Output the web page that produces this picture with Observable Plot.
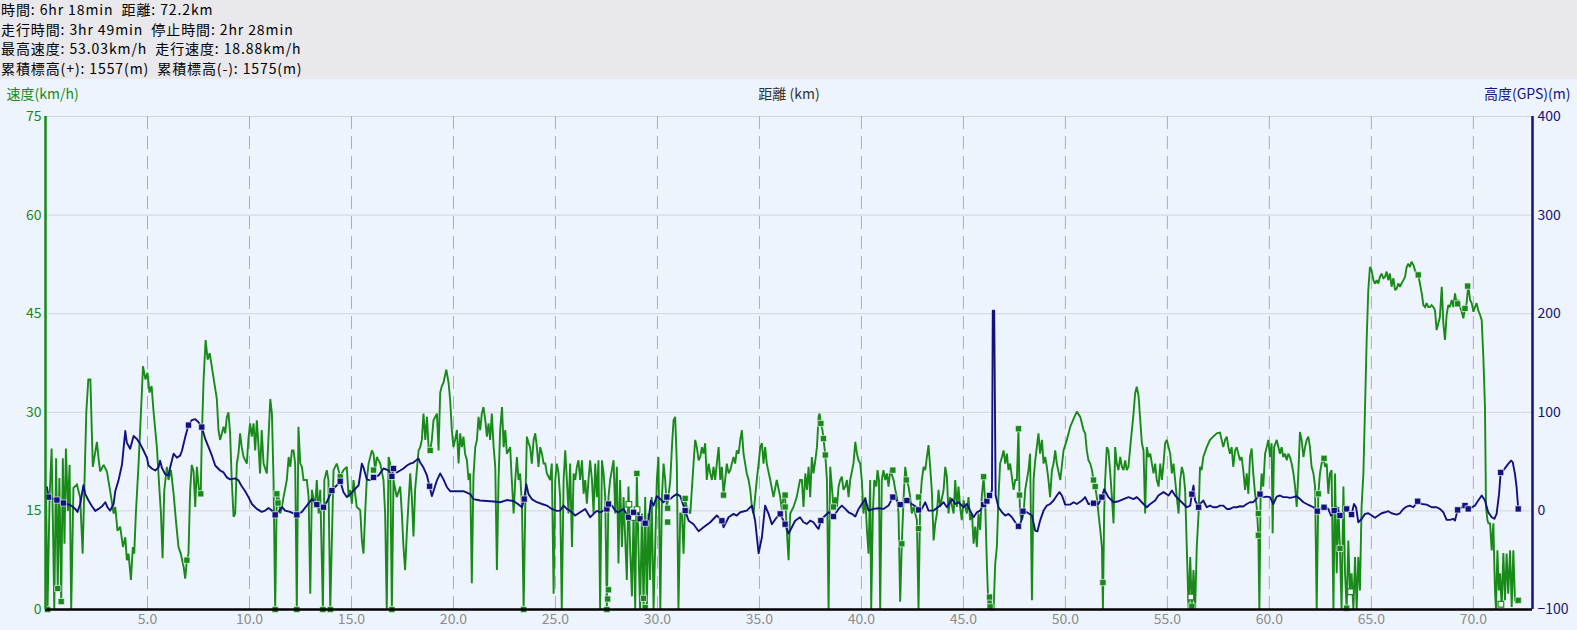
<!DOCTYPE html>
<html><head><meta charset="utf-8">
<script src="https://cdn.jsdelivr.net/npm/d3@7"></script>
<script src="https://cdn.jsdelivr.net/npm/@observablehq/plot@0.6"></script>
<style>
html,body{margin:0;padding:0;background:#eef4fd;font-family:"Noto Sans CJK JP","Noto Sans",sans-serif;}
#head{background:#e8e8ed;height:79px;padding:0 0 0 1px;font-size:14px;line-height:19.6px;letter-spacing:0.9px;color:#000;box-sizing:border-box;white-space:pre;}
#chart svg{display:block;}
</style></head><body>
<div id="head"></div>
<div id="chart"></div>
<script>
const summaryLines = [
  "時間: 6hr 18min  距離: 72.2km",
  "走行時間: 3hr 49min  停止時間: 2hr 28min",
  "最高速度: 53.03km/h  走行速度: 18.88km/h",
  "累積標高(+): 1557(m)  累積標高(-): 1575(m)"
];
const axisTitles = ["速度(km/h)", "距離 (km)", "高度(GPS)(m)"];
const xTicks = [5,10,15,20,25,30,35,40,45,50,55,60,65,70];
const xTickLabels = ["5.0","10.0","15.0","20.0","25.0","30.0","35.0","40.0","45.0","50.0","55.0","60.0","65.0","70.0"];
const speedTicks = [0,15,30,45,60,75];
const altTicks = [-100,0,100,200,300,400];
const altTickLabels = ["−100","0","100","200","300","400"];
const xMax = 72.9;

// speed (km/h) vs distance (km)
const speed = [
[0.03,17],[0.1,0],[0.2,17],[0.3,24.5],[0.38,10],[0.43,0],[0.52,23],[0.6,3.2],[0.68,20],[0.77,1.2],[0.85,23],[0.93,10],[1.0,24.5],[1.1,15],[1.18,22],[1.26,0],[1.37,18.5],[1.54,19],[1.7,17],[1.82,8.5],[1.9,18],[2.0,30],[2.1,35],[2.2,35],[2.32,21.7],[2.52,25.5],[2.6,23],[2.68,21],[2.85,22],[3.01,21],[3.17,18],[3.34,14.6],[3.42,15.6],[3.53,12],[3.66,12.6],[3.8,9.5],[3.91,11],[3.99,7.5],[4.07,8.5],[4.19,4.5],[4.28,9.5],[4.35,8.5],[4.43,14.6],[4.56,22],[4.68,30],[4.78,37],[4.9,35],[5.0,36],[5.1,33],[5.2,34],[5.3,30],[5.46,24.7],[5.59,18],[5.66,14.6],[5.74,7.8],[5.82,18],[5.95,21.7],[6.03,19.7],[6.15,21.2],[6.28,17.6],[6.41,13],[6.52,9.5],[6.63,8.5],[6.77,6.5],[6.85,4.7],[6.93,7.5],[7.01,8.5],[7.09,18],[7.17,22],[7.26,21],[7.34,15.6],[7.42,21.7],[7.53,18],[7.61,17.6],[7.66,25.8],[7.75,35],[7.85,41],[7.95,38],[8.05,39],[8.2,36],[8.4,32],[8.48,27.3],[8.56,25.8],[8.65,26.8],[8.73,27.8],[8.81,26.8],[8.89,29.3],[8.97,30],[9.05,26.8],[9.13,19.7],[9.22,14.1],[9.3,14.6],[9.38,22.2],[9.46,23.7],[9.54,26.8],[9.62,24.7],[9.71,23.2],[9.87,22.2],[9.95,26],[10.03,28.3],[10.11,26.3],[10.2,28.3],[10.28,24.2],[10.36,28.8],[10.44,25],[10.52,20.7],[10.6,27.3],[10.69,22.2],[10.85,20.7],[11.02,32],[11.1,29.8],[11.18,19.7],[11.26,0],[11.34,17.6],[11.43,17.1],[11.51,14.6],[11.59,15.6],[11.67,17.1],[11.83,19.7],[11.92,23.2],[12.0,21.7],[12.08,24.2],[12.16,24.2],[12.24,22.2],[12.32,0],[12.4,27.8],[12.49,22.2],[12.57,21.7],[12.65,19.7],[12.81,19.7],[12.9,17.1],[12.98,2.4],[13.06,18.2],[13.22,15.6],[13.3,19.7],[13.39,14.6],[13.47,18.2],[13.6,0],[13.67,19.7],[13.79,21.2],[13.87,19.7],[13.96,0],[14.12,21.2],[14.28,22.2],[14.45,20.2],[14.61,21.2],[14.77,21.7],[14.86,17.1],[14.94,18.2],[15.02,16.1],[15.1,19.7],[15.18,17.6],[15.26,15.6],[15.43,15.1],[15.51,10.5],[15.59,8.5],[15.67,14.6],[15.75,19.7],[15.84,22.2],[16.0,24.2],[16.08,23.7],[16.16,21.2],[16.24,23.2],[16.41,22.2],[16.57,19.7],[16.65,14.6],[16.73,0],[16.82,23.2],[16.9,22.2],[16.98,0],[17.06,19.7],[17.22,17.1],[17.39,18.7],
[17.47,14.6],[17.55,9.5],[17.63,6],[17.72,12.1],[17.88,20.7],[17.96,17.1],[18.04,11.1],[18.12,18.2],[18.29,24.2],[18.37,24.7],[18.45,25.8],[18.53,29.8],[18.62,25.8],[18.7,29.3],[18.78,24.7],[18.86,24.2],[18.94,25.8],[19.02,28.8],[19.19,29.8],[19.27,24.2],[19.35,33],[19.43,34],[19.51,34.5],[19.65,36.5],[19.76,34.5],[19.84,31.8],[19.92,27.3],[20.0,24.7],[20.08,25.8],[20.17,27.3],[20.25,22.2],[20.33,26.8],[20.41,24.7],[20.49,26.3],[20.57,23.7],[20.66,22.7],[20.74,19.7],[20.82,20.7],[20.9,4],[20.98,20.2],[21.07,24.7],[21.15,25.8],[21.23,29.3],[21.31,27.3],[21.39,29.8],[21.47,30.8],[21.56,28.8],[21.64,26.3],[21.72,28.3],[21.8,25.8],[21.88,29.8],[21.97,24.7],[22.05,21.7],[22.13,6],[22.21,19.7],[22.29,27.3],[22.38,30.8],[22.46,24.7],[22.54,27.3],[22.62,23.7],[22.78,24.7],[22.86,19.7],[22.95,14.6],[23.03,19.7],[23.11,23.2],[23.19,19.7],[23.27,20.7],[23.36,15.6],[23.44,0],[23.52,15.6],[23.6,26.3],[23.68,25.3],[23.76,24.7],[23.84,22.2],[23.93,25.8],[24.01,26.8],[24.09,24.7],[24.17,21.7],[24.25,24.7],[24.34,23.7],[24.42,22.2],[24.5,22.2],[24.58,20.7],[24.74,19.7],[24.82,22.2],[24.91,2.4],[24.99,19.7],[25.07,22.2],[25.15,20.7],[25.23,17.1],[25.31,0],[25.4,19.7],[25.48,24.2],[25.56,19.7],[25.64,14.6],[25.72,22.2],[25.81,9.5],[25.89,20.7],[25.97,19.7],[26.05,21.7],[26.13,22.7],[26.21,19.7],[26.3,22.7],[26.38,17.6],[26.46,19.7],[26.54,16.1],[26.62,19.7],[26.7,22.7],[26.79,19.7],[26.87,14.6],[26.95,22.2],[27.03,17.1],[27.11,22.7],[27.19,0],[27.28,22.7],[27.36,20.7],[27.44,17.1],[27.52,0],[27.6,17.1],[27.68,19.7],[27.85,22.7],[27.93,14.6],[28.01,21.7],[28.09,7],[28.17,19.7],[28.26,9.5],[28.34,17.1],[28.5,4.5],[28.58,18.7],[28.66,9.5],[28.75,2],[28.83,14.6],[28.91,0],[28.99,20.7],[29.07,9.5],[29.15,0],[29.24,14.6],[29.32,0],[29.4,17.1],[29.48,0],[29.56,14.6],[29.64,4.5],[29.72,17.1],[29.81,0],[29.89,9.5],[29.97,19.7],[30.05,23.2],[30.14,0],[30.22,17.1],[30.3,22.2],[30.38,19.7],[30.46,15.6],[30.54,17.1],[30.63,19.7],[30.71,24.7],[30.79,28.8],[30.87,29.3],[30.95,22.2],[31.03,0],[31.12,14.6],[31.2,14.6],[31.28,8.5],[31.36,16.6],[31.44,15.6],[31.61,14.6],[31.77,22.2],[31.85,25.8],[31.93,24.7],[32.02,22.7],[32.1,23.2],[32.18,24.7],[32.26,23.7],[32.34,25.3],[32.42,19.7],[32.51,22.2],[32.59,20.7],[32.67,19.7],[32.75,21.7],[32.83,19.7],[32.91,22.2],[33.0,24.7],[33.08,19.7],[33.16,21.7],[33.24,17.6],[33.32,19.7],[33.4,22.2],[33.49,20.7],[33.57,21.2],[33.65,22.2],[33.73,23.2],[33.81,22.2],[33.89,24.2],[33.98,23.7],[34.06,25.8],[34.14,27.3],[34.22,23.7],[34.3,22.2],[34.38,20.7],[34.47,19.7],[34.55,18.2],[34.63,15.6],[34.71,14.6],[34.79,17.1],[34.87,19.7],[34.96,22.2],[35.04,24.7],[35.12,25.3],[35.2,22.2],[35.28,24.7],[35.36,22.2],[35.53,19.7],[35.69,17.1],[35.85,19.7],[36.02,17.1],[36.1,15.1],[36.18,17.1],[36.26,17.1],[36.34,12.1],[36.43,7.5],[36.51,14.6],[36.67,15.6],[36.83,17.1],[36.99,19.7],
[37.08,19.7],[37.16,15.6],[37.25,20.7],[37.33,18.2],[37.41,21.7],[37.49,17.1],[37.57,23.2],[37.65,20.7],[37.74,22.7],[37.82,24.7],[37.9,29.3],[37.95,29.8],[38.01,28.3],[38.09,27.3],[38.14,26],[38.23,23.5],[38.31,19.7],[38.39,0],[38.47,21.7],[38.55,18.7],[38.63,15.6],[38.72,17.1],[38.8,15.6],[38.88,18.7],[38.96,19.7],[39.04,20.2],[39.12,18.2],[39.21,18.7],[39.29,19.7],[39.37,17.1],[39.45,19.7],[39.61,22.2],[39.7,25.5],[39.78,23.7],[39.86,22.7],[39.94,22.2],[40.02,19.7],[40.1,14.6],[40.19,17.1],[40.27,12.1],[40.35,8.5],[40.43,19.7],[40.48,0],[40.56,14.6],[40.63,19.7],[40.73,18.7],[40.79,21.2],[40.86,19.7],[40.92,0],[41.0,19.7],[41.08,21.2],[41.17,19.7],[41.25,20.7],[41.33,18.7],[41.41,21.2],[41.58,19.7],[41.66,18.2],[41.74,17.1],[41.82,14.6],[41.9,1.2],[41.98,10],[42.07,17.1],[42.15,21.7],[42.23,19.7],[42.31,18.7],[42.39,17.1],[42.47,14.6],[42.56,15.6],[42.64,14.6],[42.72,13.6],[42.8,0],[42.88,16.1],[42.96,19.7],[43.05,21.7],[43.13,21.2],[43.21,23.2],[43.29,25],[43.37,21.7],[43.45,18.2],[43.54,10.5],[43.62,13.1],[43.7,14.6],[43.78,18.2],[43.86,15.6],[44.03,18.2],[44.11,21.7],[44.19,20.2],[44.27,14.6],[44.35,17.1],[44.52,14.6],[44.6,19.7],[44.68,15.6],[44.76,18.7],[44.84,15.6],[44.92,13.6],[45.01,16.6],[45.09,15.6],[45.17,14.6],[45.25,17.1],[45.33,13.6],[45.42,14.6],[45.5,10],[45.58,12.6],[45.66,9.5],[45.74,14.6],[45.82,12.1],[45.9,17.1],[45.99,20.2],[46.07,16.1],[46.15,7],[46.23,0],[46.31,2],[46.4,0],[46.48,0],[46.56,7],[46.64,9.5],[46.72,17.1],[46.8,22.2],[46.89,23.2],[46.97,24.2],[47.05,22.2],[47.13,23.7],[47.21,21.2],[47.29,22.2],[47.46,18.2],[47.54,19.7],[47.62,19.7],[47.7,27.5],[47.75,17.4],[47.78,14.6],[47.87,13.6],[47.95,14.6],[48.03,18.2],[48.11,19.7],[48.19,21.2],[48.27,23.7],[48.36,1.4],[48.44,19.7],[48.52,22.7],[48.6,24.7],[48.68,26.8],[48.76,23.7],[48.85,25.8],[48.93,22.2],[49.01,23.2],[49.09,21.7],[49.17,19.7],[49.25,17.1],[49.34,21.2],[49.42,22.2],[49.5,24.2],[49.58,22.2],[49.75,19.7],[49.91,24.2],[50.07,25.8],[50.24,27.8],[50.4,29],[50.56,30.1],[50.73,29.3],[50.89,27.3],[50.97,26.8],[51.05,24.2],[51.13,22.7],[51.22,22.2],[51.3,21.2],[51.38,19.7],[51.46,18.7],[51.54,17.1],[51.62,14.6],[51.71,12.1],[51.79,9.5],[51.84,0],[51.9,14.6],[51.95,19.7],[52.03,24.7],[52.11,24.2],[52.2,20.7],[52.28,17.1],[52.36,13.1],[52.44,24.7],[52.52,22.2],[52.6,21.2],[52.69,23.2],[52.77,21.7],[52.85,21.2],[52.93,22.7],[53.01,21.2],[53.09,21.7],[53.18,24.7],[53.26,27.3],[53.34,29.8],[53.42,32.9],[53.5,33.9],[53.59,32.4],[53.67,28.8],[53.75,25.3],[53.83,24.2],[53.91,14.6],[53.99,24.7],[54.08,23.2],[54.16,23.7],[54.24,22.2],[54.32,20.7],[54.4,22.2],[54.48,19.7],[54.57,18.7],[54.65,22.2],[54.73,19.7],[54.81,22.2],[54.89,25.3],[54.97,25.8],[55.06,24.7],[55.14,23.7],[55.22,20.7],[55.3,22.2],[55.38,19.7],[55.46,17.1],[55.55,14.6],[55.63,19.7],[55.71,21.7],[55.79,20.7],[55.87,18.2],[55.95,9.5],[56.04,0],[56.12,8],[56.2,0],[56.28,6],[56.36,0],[56.44,9.5],[56.53,14.6],
[56.6,21.7],[56.68,21.2],[56.76,23.2],[56.93,24.7],[57.09,25.8],[57.25,26.3],[57.42,26.8],[57.58,26.9],[57.66,25.8],[57.74,24.7],[57.83,25.8],[57.91,26.3],[57.99,24.7],[58.07,23.7],[58.15,24.7],[58.23,21.7],[58.32,24.2],[58.4,24.7],[58.48,23.7],[58.56,22.7],[58.64,23.2],[58.72,21.2],[58.81,18.2],[58.89,20.7],[58.97,17.6],[59.05,23.2],[59.13,24.5],[59.21,20.7],[59.3,17.6],[59.38,15.6],[59.46,11.3],[59.51,0],[59.57,17.6],[59.62,20.7],[59.7,18.7],[59.79,23.7],[59.87,24.7],[59.95,25.8],[60.03,23.2],[60.11,25.3],[60.16,11.6],[60.23,24.7],[60.36,25.8],[60.52,23.7],[60.6,24.7],[60.68,23.2],[60.77,23.7],[60.85,22.7],[60.93,23.7],[61.01,23.2],[61.09,22.2],[61.18,20.7],[61.26,18.7],[61.34,15.6],[61.42,20.7],[61.5,27],[61.58,25.8],[61.67,23.2],[61.75,24.7],[61.83,25.8],[61.91,26.3],[61.99,24.7],[62.07,21.7],[62.16,20.7],[62.24,18.7],[62.32,0],[62.4,17.6],[62.48,20.7],[62.56,22.2],[62.65,23.2],[62.73,21.7],[62.81,22.2],[62.89,17.6],[62.97,20.7],[63.05,21.2],[63.14,0],[63.22,20.7],[63.3,5.5],[63.38,15.6],[63.46,9.3],[63.54,0],[63.63,18.7],[63.71,5.5],[63.79,0],[63.87,10.5],[63.95,2.9],[64.03,5.5],[64.12,0],[64.2,8],[64.28,0],[64.36,8],[64.44,2.9],[64.52,15.6],[64.61,20.7],[64.69,30.8],[64.77,41],[64.85,48.6],[64.93,52.1],[65.01,51.6],[65.1,50.1],[65.18,49.6],[65.26,50.1],[65.34,49.6],[65.42,50.6],[65.5,51.1],[65.59,50.4],[65.67,50.6],[65.75,51.4],[65.83,50.1],[65.91,51.1],[65.99,49.1],[66.08,50.4],[66.16,48.6],[66.24,48.8],[66.32,49.6],[66.4,49.1],[66.48,49.6],[66.57,50.1],[66.65,50.6],[66.73,52.1],[66.81,52.6],[66.89,52.1],[66.97,52.9],[67.06,52.4],[67.14,51.6],[67.22,51.1],[67.3,50.9],[67.38,49.6],[67.47,48.1],[67.55,46.3],[67.63,46],[67.71,46.6],[67.79,46],[67.87,46],[67.95,46.3],[68.04,46],[68.12,45.5],[68.2,42.5],[68.28,43.5],[68.36,44.5],[68.45,49.1],[68.53,43.5],[68.61,41],[68.69,44.8],[68.77,46.3],[68.85,46],[68.94,47.1],[69.02,46],[69.1,48.1],[69.18,46.6],[69.26,47.1],[69.35,46],[69.43,45.3],[69.51,44.3],[69.59,45.8],[69.67,46.6],[69.75,49.3],[69.84,47.1],[69.92,46.6],[70.0,45.3],[70.08,46],[70.16,46.6],[70.24,45.5],[70.33,44.8],[70.41,44],[70.49,38.4],[70.57,30.8],[70.62,15.6],[70.69,13.6],[70.74,13.1],[70.82,13.1],[70.9,9],[70.98,13.1],[71.06,2.9],[71.11,0],[71.18,9],[71.25,2.9],[71.31,5.5],[71.39,0.4],[71.47,8.6],[71.55,1.4],[71.63,8.5],[71.71,2.4],[71.8,9],[71.88,0.4],[71.96,9],[72.04,1.4],[72.12,0.9],[72.2,1.4]
];

// altitude GPS (m) vs distance (km)
const altitude = [
[0.07,24],[0.15,14],[0.56,11],[0.88,8],[1.05,7],[1.29,5],[1.46,2],[1.57,-1],[1.7,7],[1.86,26],[1.95,17],[2.11,10.5],[2.27,5],[2.44,0],[2.6,2],[2.76,4.4],[2.93,8.8],[3.04,3.7],[3.17,0.3],[3.34,7],[3.42,20],[3.58,31],[3.75,47],[3.91,81],[3.99,69],[4.07,66],[4.15,63],[4.32,76],[4.48,73],[4.64,68],[4.81,61],[4.97,54],[5.05,46],[5.21,43],[5.38,41],[5.54,44],[5.62,51],[5.7,44],[5.87,37],[6.03,36],[6.11,44],[6.28,58],[6.44,54],[6.6,56],[6.69,61],[6.85,75],[7.01,87],[7.17,92],[7.34,93],[7.5,90],[7.66,85],[7.83,73],[7.99,65],[8.16,56],[8.32,46],[8.56,41],[8.73,39],[8.89,34],[9.05,32],[9.3,33],[9.46,31],[9.62,25],[9.79,20],[9.95,14],[10.12,7],[10.36,2],[10.6,-1],[10.77,0.3],[10.93,3],[11.1,0.3],[11.26,-4],[11.43,-1],[11.59,4],[11.75,0.3],[11.99,-1],[12.32,-4],[12.57,-1],[12.81,5.4],[13.06,12],[13.3,6.4],[13.63,3.7],[13.79,9],[14.04,20.6],[14.28,26],[14.45,30],[14.61,19],[14.77,14],[14.94,17],[15.1,20.6],[15.35,26],[15.51,48],[15.59,44],[15.75,32],[15.92,31],[16.08,34],[16.33,36],[16.57,43],[16.82,41],[16.98,35],[17.06,43],[17.22,39],[17.39,41],
[17.55,43],[17.72,46],[17.88,48],[18.04,49],[18.21,52],[18.29,53],[18.37,49],[18.53,44],[18.7,36],[18.83,25],[18.94,15],[19.02,20],[19.19,31],[19.35,38],[19.51,32],[19.68,24],[19.84,20],[20.17,20],[20.49,20],[20.82,17],[20.98,12],[21.31,10.5],[21.64,10],[21.97,9.5],[22.29,8.8],[22.62,11],[22.95,10],[23.19,6.4],[23.36,3.7],[23.47,12],[23.57,27],[23.68,17],[23.84,12],[24.09,8.8],[24.34,7],[24.58,5.4],[24.82,2],[25.07,0],[25.23,0.3],[25.4,5.4],[25.56,2],[25.72,0],[25.97,-4.7],[26.21,-1.4],[26.46,2],[26.7,-6.4],[26.87,-3],[27.03,0],[27.19,-1.4],[27.44,1],[27.52,2],[27.6,7],[27.77,5.4],[27.93,0.3],[28.09,-1.4],[28.34,2],[28.58,-6.4],[28.83,-1.4],[28.99,3.7],[29.15,-8],[29.4,-12.5],[29.56,-10],[29.68,10.5],[29.81,5.4],[29.97,15],[30.14,12],[30.3,8.8],[30.46,14],[30.63,12],[30.79,15],[30.95,17],[31.12,15],[31.36,0.3],[31.53,-10],[31.77,-13.5],[32.02,-20.6],[32.26,-16.6],[32.59,-11.5],[32.91,-4.7],[33.16,-10],[33.24,-16.6],[33.49,-6.4],[33.73,-3],[33.89,-4.7],[34.06,-1.4],[34.38,0.3],[34.63,5.4],[34.79,-10],[34.96,-43],[35.12,-27],[35.28,5.4],[35.45,-3],[35.61,-13.5],[35.85,-6.4],[36.02,-3],[36.26,-13.5],[36.43,-23],[36.59,-16.6],[36.75,-10],[36.99,-6.4],
[37.16,-11.5],[37.33,-13.2],[37.49,-9.8],[37.65,-11.5],[37.82,-16.6],[37.9,-18.3],[38.01,-9.8],[38.14,-6.4],[38.39,-1.4],[38.63,-5.7],[38.88,2],[39.04,5.4],[39.21,2],[39.37,-1.4],[39.53,-3],[39.7,-5.7],[39.86,2],[40.02,7],[40.19,12],[40.35,0.3],[40.59,2],[40.84,2.7],[41.08,2],[41.33,5.4],[41.54,14],[41.74,10.5],[41.9,6.4],[42.23,10.5],[42.47,7],[42.72,3.7],[42.8,1],[42.96,2],[43.13,8.8],[43.29,0.3],[43.54,0.3],[43.86,5.4],[44.03,8.8],[44.19,3.7],[44.44,12],[44.6,7],[44.76,8.8],[45.01,3.7],[45.17,7],[45.33,0.3],[45.5,-6.4],[45.66,-1.4],[45.82,0.3],[45.99,6.4],[46.15,10],[46.28,15.6],[46.4,20.6],[46.44,203],[46.51,203],[46.58,15.6],[46.72,3.7],[46.89,-1.4],[47.05,-4.7],[47.21,-3],[47.38,-6.4],[47.54,-11.5],[47.7,-15.6],[47.82,-11.5],[47.92,-0.3],[48.11,-1.4],[48.36,-4.7],[48.52,-20],[48.63,-20.6],[48.76,-9.8],[48.93,0.3],[49.09,5.4],[49.25,7],[49.42,10.5],[49.58,15.6],[49.71,19],[49.83,15.6],[49.99,6.4],[50.24,6.4],[50.4,8.8],[50.56,7],[50.81,10.5],[50.97,14],[51.13,7],[51.38,7.8],[51.62,7],[51.79,14],[51.9,22],[52.11,14],[52.36,8.8],[52.61,9.8],[52.85,12],[53.1,14],[53.34,12],[53.5,14],[53.67,10.5],[53.83,7],[53.99,3.7],[54.16,7],[54.4,10.5],[54.56,15.6],[54.81,19],[55.06,15.6],[55.22,20.6],[55.38,15.6],[55.55,12],[55.79,7],[55.95,3.7],[56.12,5.4],[56.2,17],[56.28,25.7],[56.36,10.5],[56.53,3.7],
[56.6,7],[56.76,10.5],[56.93,3.7],[57.09,5.4],[57.25,3.7],[57.42,3.7],[57.58,5.4],[57.74,5.4],[57.91,2],[58.07,2],[58.23,3.7],[58.4,3.7],[58.56,4.7],[58.72,4.4],[58.89,7],[59.05,8.8],[59.21,8.8],[59.35,12],[59.54,17],[59.7,14],[59.87,14.5],[60.03,14],[60.19,7],[60.36,14.5],[60.52,15.6],[60.68,14],[60.85,14],[61.01,13.2],[61.18,14],[61.34,14.9],[61.5,12],[61.67,8.8],[61.83,7],[61.99,5.4],[62.16,3.7],[62.35,-0.3],[62.48,2],[62.68,3.7],[62.89,2],[63.02,-4.7],[63.18,0.3],[63.3,3.7],[63.46,-4.7],[63.63,-1.4],[63.79,2],[63.95,-3],[64.03,-3.7],[64.15,7],[64.25,3.7],[64.36,-11.5],[64.53,-8],[64.69,-3],[64.85,-2.4],[65.02,-4.7],[65.18,-7],[65.34,-4.7],[65.5,-2.4],[65.67,-1.4],[65.83,-0.3],[65.99,-2.4],[66.24,-3.7],[66.4,-2.4],[66.57,2],[66.73,4.4],[66.89,5.4],[67.06,3.7],[67.27,9.8],[67.47,7],[67.71,6.4],[67.96,3.7],[68.2,3.7],[68.36,2],[68.53,-1.4],[68.69,-9.1],[68.85,-9.1],[69.02,-8],[69.1,-9.8],[69.23,1],[69.43,3.7],[69.59,5.4],[69.75,2],[69.92,3.7],[70.08,5.4],[70.24,10.5],[70.41,15.6],[70.57,10.5],[70.73,-1.4],[70.9,-6.4],[71.03,-8],[71.14,-3],[71.26,17],[71.34,39],[71.47,41],[71.6,44.6],[71.71,47.7],[71.85,51],[71.93,49.5],[72.04,37.5],[72.12,24],[72.2,2]
];

// point markers on the speed trace (filled and hollow)
const speedMarks = [
[0.1,0],[0.6,3.2],[0.77,1.2],[6.93,7.5],[7.61,17.6],[11.26,0],[11.34,17.6],[11.4,16.2],[12.32,0],[13.6,0],[13.96,0],[14.45,20.2],[16.08,21.2],[16.98,0],
[18.86,24.2],[23.44,0],[27.52,0],[27.56,1.6],[27.6,3],[28.99,20.7],[29.32,1.7],[29.4,0.3],[30.46,17.1],[30.5,15.4],[30.5,13.3],[31.36,16.9],[31.36,15.1],[33.24,17.4],[36.26,17.4],[36.26,15.6],
[38.01,28.3],[38.14,26],[38.23,23.5],[38.63,15.6],[41.54,21.2],[41.98,10],[42.2,19.7],[42.8,17.1],[42.8,12.3],[45.99,20.2],[46.28,1.9],[46.31,0.4],[47.7,27.5],[47.75,17.4],[51.38,19.7],[51.46,18.7],[51.84,4.1],[56.2,0.5],
[59.46,14.6],[59.46,11.3],[62.4,17.6],[62.68,23],[63.46,9.3],[63.79,0.2],[67.3,50.9],[69.23,46.5],[69.59,45.8],[69.72,49.2],[72.2,1.4]
];
const speedMarksHollow = [[28.6,16],[28.8,14],[29.0,15.2],[56.15,1.9],[63.98,2.7],[71.35,0.8]];

// point markers on the altitude trace
const altMarks = [
[0.15,14],[0.56,11],[0.88,8],[7.01,87],[7.66,85],[11.26,-4],[12.32,-4],[13.3,6.4],[13.63,3.7],[14.04,20.6],[14.45,30],[16.08,34],[16.98,35],[17.06,43],[18.83,25],[23.47,12],[27.52,2],[27.6,7],[28.58,-6.4],[28.83,-1.4],[29.15,-8],[29.4,-12.5],[30.46,14],[31.36,0.3],[33.16,-10],[36.02,-3],[36.26,-13.5],[38.01,-9.8],[38.63,-5.7],[41.54,14],[41.9,6.4],[42.23,10.5],[42.8,1],[45.99,6.4],[46.15,10],[46.28,15.6],[47.7,-15.6],[47.92,-0.3],[51.38,7.8],[51.79,14],[56.2,17],[56.53,3.7],[59.54,17],[62.35,-0.3],[62.68,3.7],[63.18,0.3],[63.46,-4.7],[63.79,2],[64.03,-3.7],[67.27,9.8],[69.23,1],[69.59,5.4],[69.75,2],[71.34,39],[72.2,2]
];

document.getElementById("head").innerHTML = summaryLines.map(s => `<div>${s}</div>`).join("");

const GREEN = "#188a18", NAVY = "#12127f", BG = "#eef4fd";
const yMax = speedTicks[speedTicks.length - 1];
const altToY = a => (a - altTicks[0]) * yMax / (altTicks[altTicks.length - 1] - altTicks[0]);
const FONT = '"Noto Sans CJK JP","Noto Sans",sans-serif';

const chart = Plot.plot({
  width: 1577, height: 551,
  marginTop: 37, marginBottom: 21, marginLeft: 45, marginRight: 45,
  x: {domain: [0, xMax]},
  y: {domain: [0, yMax]},
  style: {background: "transparent", fontFamily: FONT, fontSize: "14px", overflow: "visible"},
  marks: [
    Plot.ruleY(speedTicks.slice(1), {stroke: "#d3d5db", strokeWidth: 1}),
    Plot.ruleX(xTicks, {stroke: "#adadad", strokeWidth: 1, strokeDasharray: "13,7"}),
    Plot.line(speed, {x: d => d[0], y: d => d[1], stroke: GREEN, strokeWidth: 1.9, strokeLinejoin: "miter", strokeMiterlimit: 2}),
    Plot.line(altitude, {x: d => d[0], y: d => altToY(d[1]), stroke: NAVY, strokeWidth: 1.9}),
    Plot.dot(speedMarks, {x: d => d[0], y: d => d[1], symbol: "square", r: 3.5, fill: GREEN, stroke: BG, strokeWidth: 0.7}),
    Plot.dot(speedMarksHollow, {x: d => d[0], y: d => d[1], symbol: "square", r: 3.2, fill: "white", stroke: GREEN, strokeWidth: 1.2}),
    Plot.dot(altMarks, {x: d => d[0], y: d => altToY(d[1]), symbol: "square", r: 3.5, fill: NAVY, stroke: BG, strokeWidth: 0.7}),
    Plot.ruleY([0], {stroke: "black", strokeWidth: 2.5}),
    Plot.ruleX([0], {stroke: GREEN, strokeWidth: 2.5}),
    Plot.ruleX([xMax], {stroke: NAVY, strokeWidth: 2.5}),
    Plot.axisY({ticks: speedTicks, tickSize: 0, tickPadding: 4, color: GREEN, label: null}),
    Plot.axisY({anchor: "right", ticks: speedTicks, tickSize: 0, tickPadding: 5, color: NAVY, label: null,
      tickFormat: d => altTickLabels[speedTicks.indexOf(d)]}),
    Plot.axisX({ticks: xTicks, tickSize: 0, tickPadding: 5, color: "#8c8c8c", label: null,
      tickFormat: d => xTickLabels[xTicks.indexOf(d)]}),
    Plot.text([axisTitles[0]], {frameAnchor: "top-left", textAnchor: "start", lineAnchor: "middle", dx: -39, dy: -21.5, fill: GREEN, fontSize: 14}),
    Plot.text([axisTitles[1]], {frameAnchor: "top", textAnchor: "middle", lineAnchor: "middle", dy: -21.5, fill: "#333", fontSize: 14}),
    Plot.text([axisTitles[2]], {frameAnchor: "top-right", textAnchor: "end", lineAnchor: "middle", dx: 38, dy: -21.5, fill: NAVY, fontSize: 14})
  ]
});
document.getElementById("chart").appendChild(chart);
</script>
</body></html>
